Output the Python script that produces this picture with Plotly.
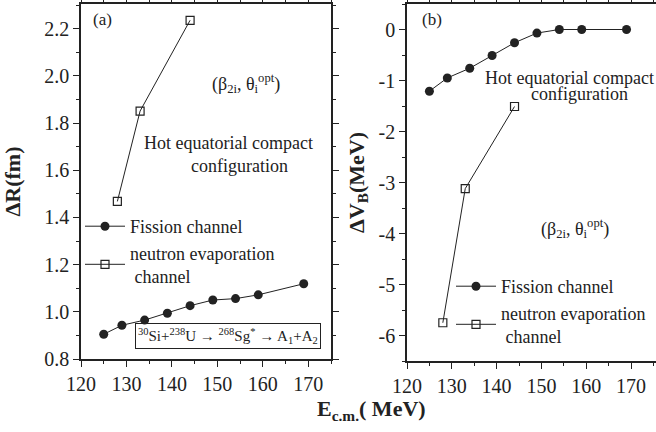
import plotly.graph_objects as go

# ---- data ----
fission_E = [125, 129, 134, 139, 144, 149, 154, 159, 169]
fission_dR = [0.905, 0.943, 0.965, 0.994, 1.026, 1.050, 1.056, 1.072, 1.119]
fission_dVB = [-1.21, -0.95, -0.76, -0.51, -0.26, -0.07, 0.0, 0.0, 0.0]

neutron_E = [128, 133, 144]
neutron_dR = [1.468, 1.851, 2.236]
neutron_dVB = [-5.75, -3.12, -1.51]

x_ticks = [120, 130, 140, 150, 160, 170]
dR_ticks = [0.8, 1.0, 1.2, 1.4, 1.6, 1.8, 2.0, 2.2]
dR_ticklabels = ["0.8", "1.0", "1.2", "1.4", "1.6", "1.8", "2.0", "2.2"]
dVB_ticks = [-6, -5, -4, -3, -2, -1, 0]
dVB_ticklabels = ["-6", "-5", "-4", "-3", "-2", "-1", "0"]

W, H = 656, 432
FONT = "Liberation Serif, Times New Roman, serif"
INK = "#222222"

fig = go.Figure()

line_style = dict(color=INK, width=1)
fiss_marker = dict(symbol="circle", size=9, color=INK)
neut_marker = dict(symbol="square-open", size=8, color=INK, line=dict(width=1.2, color=INK))

fig.add_trace(go.Scatter(x=fission_E, y=fission_dR, mode="lines+markers", name="Fission channel",
                         line=line_style, marker=fiss_marker, xaxis="x", yaxis="y", legend="legend"))
fig.add_trace(go.Scatter(x=neutron_E, y=neutron_dR, mode="lines+markers", name="neutron evaporation<br> channel",
                         line=line_style, marker=neut_marker, xaxis="x", yaxis="y", legend="legend"))
fig.add_trace(go.Scatter(x=fission_E, y=fission_dVB, mode="lines+markers", name="Fission channel",
                         line=line_style, marker=fiss_marker, xaxis="x2", yaxis="y2", legend="legend2"))
fig.add_trace(go.Scatter(x=neutron_E, y=neutron_dVB, mode="lines+markers", name="neutron evaporation<br> channel",
                         line=line_style, marker=neut_marker, xaxis="x2", yaxis="y2", legend="legend2"))

tickfont = dict(family=FONT, size=20, color=INK)
axis_common = dict(showline=True, linecolor=INK, linewidth=1.5, ticks="outside", ticklen=6,
                   tickwidth=1.3, tickcolor=INK, showgrid=False, zeroline=False, tickfont=tickfont,
                   automargin=False)

ya_top = 1 - 4 / H
xa_dom = [81 / W, 331 / W]
xb_dom = [407 / W, 1.0]

fig.update_layout(
    width=W, height=H,
    margin=dict(l=0, r=0, t=0, b=0),
    font=dict(family=FONT, size=18, color=INK),
    paper_bgcolor="white", plot_bgcolor="white",
    xaxis=dict(domain=xa_dom, range=[120, 175], tickvals=x_ticks, anchor="y", mirror="ticks",
               minor=dict(dtick=5, ticklen=3, tickcolor=INK, ticks="outside"), **axis_common),
    yaxis=dict(domain=[1 - 359 / H, ya_top], range=[0.8, 2.305], tickvals=dR_ticks, ticktext=dR_ticklabels,
               anchor="x", mirror="ticks",
               minor=dict(dtick=0.1, tick0=0.8, ticklen=3, tickcolor=INK, ticks="outside"),
               title=dict(text="<b>ΔR(fm)</b>", font=dict(family=FONT, size=22, color=INK), standoff=18),
               **axis_common),
    xaxis2=dict(domain=xb_dom, range=[120, 120 + (656 - 407) / 4.48], tickvals=x_ticks, anchor="y2", mirror="ticks",
                minor=dict(dtick=5, ticklen=3, tickcolor=INK, ticks="outside"), **axis_common),
    yaxis2=dict(domain=[1 - 361 / H, ya_top], range=[-6.5, 0.5], tickvals=dVB_ticks, ticktext=dVB_ticklabels,
                anchor="x2", mirror=False,
                minor=dict(dtick=0.5, tick0=0, ticklen=3, tickcolor=INK, ticks="outside"),
                title=dict(text="<b>ΔV<sub>B</sub>(MeV)</b>", font=dict(family=FONT, size=22, color=INK), standoff=8),
                **axis_common),
    legend=dict(x=80 / W, y=1 - 208 / H, xanchor="left", yanchor="top", bgcolor="rgba(0,0,0,0)",
                font=dict(family=FONT, size=18, color=INK), itemwidth=40, tracegroupgap=0),
    legend2=dict(x=451 / W, y=1 - 268 / H, xanchor="left", yanchor="top", bgcolor="rgba(0,0,0,0)",
                 font=dict(family=FONT, size=18, color=INK), itemwidth=40, tracegroupgap=0),
    showlegend=True,
)


def ann(text, x, y, size=18, **kw):
    fig.add_annotation(text=text, x=x / W, y=1 - y / H, xref="paper", yref="paper",
                       xanchor="center", yanchor="middle",
                       showarrow=False, font=dict(family=FONT, size=size, color=INK), **kw)


ann("(a)", 102, 20, size=17)
ann("(β<sub>2i</sub>, θ<sub>i</sub><sup>opt</sup>)", 246, 84)
ann("Hot equatorial compact", 229, 143)
ann("configuration", 239, 166)
ann("<sup>30</sup>Si+<sup>238</sup>U → <sup>268</sup>Sg<sup>*</sup> → A<sub>1</sub>+A<sub>2</sub>",
    228, 336, size=15, bordercolor=INK, borderwidth=1, borderpad=2)

ann("(b)", 432, 20, size=17)
ann("Hot equatorial compact", 569, 78)
ann("configuration", 579, 94)
ann("(β<sub>2i</sub>, θ<sub>i</sub><sup>opt</sup>)", 575, 228)

ann("<b>E<sub>c.m.</sub>( MeV)</b>", 372, 410, size=22)

fig.write_html("out.html")
